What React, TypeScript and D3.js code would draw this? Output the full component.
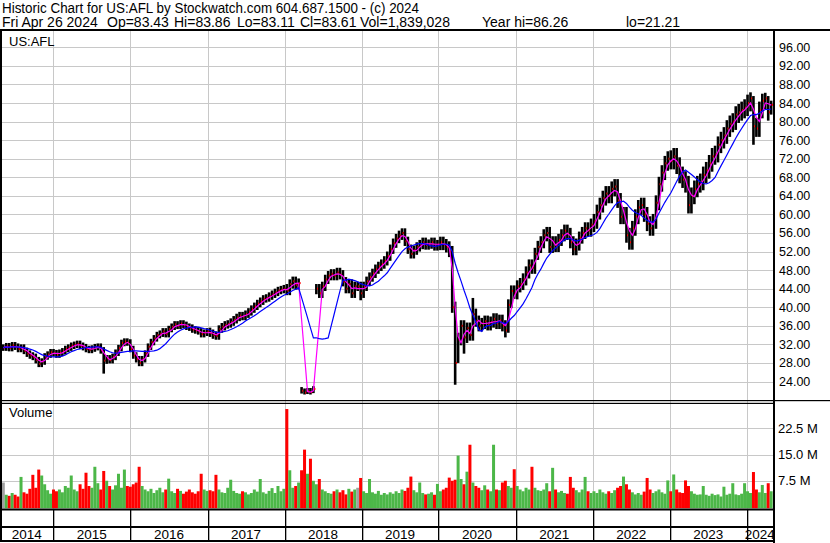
import React from 'react';
import * as d3 from 'd3';

// ---- Data (biweekly bars, last bar = Fri Apr 26 2024) ----
const closes = [
  // 2014
  31.3, 31.6, 31.2, 31.8, 31.5, 31.0, 31.3, 30.6, 30.0, 29.6, 29.3, 28.6, 27.8, 28.3, 29.4, 29.8, 30.3, 30.1,
  // 2015
  29.8, 30.2, 30.5, 31.0, 31.3, 31.7, 31.9, 32.1, 31.7, 31.4, 31.0, 30.8, 31.1, 31.4, 31.5, 30.7, 28.5, 29.0, 28.6, 29.3, 30.2, 31.2, 32.3, 32.6, 32.4, 31.0,
  // 2016
  29.6, 28.8, 28.0, 28.8, 30.0, 31.5, 32.5, 33.3, 34.0, 34.3, 34.8, 34.2, 35.3, 35.8, 36.3, 36.0, 36.5, 36.2, 35.8, 35.6, 35.2, 35.0, 34.8, 34.2, 34.5, 34.8,
  // 2017
  34.4, 34.0, 33.8, 35.3, 35.8, 36.2, 36.4, 36.8, 37.3, 37.8, 38.2, 38.0, 38.5, 39.0, 39.6, 40.2, 40.8, 41.3, 41.8, 42.0, 42.4, 42.8, 43.2, 43.6, 43.8, 44.0,
  // 2018
  43.6, 45.0, 45.6, 44.8, 45.2, 22.0, 21.6, 21.9, 21.7, 22.4, 44.0, 43.0, 44.5, 46.0, 46.8, 47.2, 46.8, 47.5, 47.0, 45.5, 44.0, 45.0, 43.0, 44.5, 44.5, 43.0,
  // 2019
  44.5, 45.6, 46.5, 47.3, 48.2, 48.8, 49.3, 50.0, 51.0, 52.5, 53.8, 54.8, 55.5, 56.0, 54.2, 52.5, 51.5, 52.3, 53.0, 53.5, 54.0, 53.4, 53.6, 54.0, 53.2, 53.5,
  // 2020
  54.0, 53.5, 53.0, 52.0, 40.0, 28.0, 33.0, 36.0, 33.5, 35.5, 34.0, 38.5, 37.0, 36.0, 36.5, 37.0, 36.2, 36.8, 37.5, 36.5, 37.2, 36.0, 35.0, 40.5, 43.5, 43.0,
  // 2021
  44.5, 45.0, 46.0, 47.5, 49.0, 48.5, 51.5, 53.0, 54.0, 55.5, 56.0, 53.0, 54.0, 53.2, 54.5, 55.5, 56.5, 55.8, 54.0, 52.5, 53.5, 55.0, 56.0, 57.0, 56.5, 57.8,
  // 2022
  58.5, 60.5, 62.0, 63.5, 64.5, 64.0, 65.5, 66.0, 63.0, 59.5, 60.0, 55.5, 54.0, 57.0, 59.5, 61.5, 62.0, 60.0, 58.0, 57.0, 58.5, 62.5, 66.5, 69.0, 71.0, 72.0,
  // 2023
  71.5, 72.5, 70.5, 68.5, 67.5, 66.5, 62.0, 64.0, 65.5, 66.5, 67.0, 68.5, 69.5, 71.0, 72.5, 73.0, 75.0, 76.0, 77.0, 78.5, 79.5, 80.0, 81.5, 82.0, 82.5, 83.0,
  // 2024
  84.0, 85.0, 79.0, 78.5, 82.5, 84.5, 85.0, 82.0, 83.6,
];

const highs = [
  32.0, 32.3, 32.3, 32.5, 32.5, 32.2, 32.0, 32.0, 31.3, 30.7, 30.3, 30.0, 29.3, 29.0, 30.1, 30.5, 31.0, 31.0,
  30.8, 30.9, 31.2, 31.7, 32.0, 32.4, 32.6, 32.8, 32.8, 32.4, 32.1, 31.7, 31.8, 32.1, 32.2, 32.2, 31.4, 29.7, 29.7, 30.0, 30.9, 31.9, 33.0, 33.3, 33.3, 33.1,
  31.7, 30.3, 29.5, 29.5, 30.7, 32.2, 33.2, 34.0, 34.7, 35.0, 35.5, 35.5, 36.0, 36.5, 37.0, 37.0, 37.2, 37.2, 36.9, 36.5, 36.3, 35.9, 35.7, 35.5, 35.2, 35.5,
  35.6, 35.2, 34.8, 36.1, 36.6, 37.0, 37.2, 37.6, 38.1, 38.6, 39.0, 39.0, 39.3, 39.8, 40.4, 41.0, 41.6, 42.1, 42.6, 42.8, 43.2, 43.6, 44.0, 44.4, 44.6, 44.8,
  45.0, 46.0, 46.6, 46.6, 46.2, 22.8, 22.5, 22.6, 22.6, 23.0, 45.0, 45.0, 45.5, 47.0, 47.8, 48.2, 48.2, 48.5, 48.5, 48.0, 46.5, 46.0, 46.0, 45.5, 45.5, 45.5,
  45.5, 46.6, 47.5, 48.3, 49.2, 49.8, 50.3, 51.0, 52.0, 53.5, 54.8, 55.8, 56.5, 57.0, 57.0, 55.2, 53.5, 53.3, 54.0, 54.5, 55.0, 55.0, 54.6, 55.0, 55.0, 54.5,
  55.2, 55.2, 54.7, 54.2, 53.2, 41.2, 34.5, 37.2, 37.2, 36.7, 36.7, 42.0, 39.7, 38.2, 37.7, 38.2, 38.2, 38.0, 38.7, 38.7, 38.4, 38.4, 37.2, 41.7, 44.7, 44.7,
  45.8, 46.3, 47.3, 48.8, 50.3, 50.3, 52.8, 54.3, 55.3, 56.8, 57.3, 57.3, 55.3, 55.3, 55.8, 56.8, 57.8, 57.8, 57.1, 55.3, 54.8, 56.3, 57.3, 58.3, 58.3, 59.1,
  60.1, 62.1, 63.6, 65.1, 66.1, 66.1, 67.1, 67.6, 67.6, 64.6, 61.6, 61.6, 57.1, 58.6, 61.1, 63.1, 63.6, 63.6, 61.6, 59.6, 60.1, 64.1, 68.1, 70.6, 72.6, 73.6,
  73.8, 74.3, 74.3, 72.3, 70.3, 69.3, 68.3, 65.8, 67.3, 68.3, 68.8, 70.3, 71.3, 72.8, 74.3, 74.8, 76.8, 77.8, 78.8, 80.3, 81.3, 81.8, 83.3, 83.8, 84.3, 84.8,
  85.8, 86.3, 85.5, 80.8, 84.3, 86.0, 86.2, 85.5, 84.5,
];

const lows = [
  30.6, 30.6, 30.5, 30.5, 30.8, 30.3, 30.3, 29.9, 29.3, 28.9, 28.6, 27.9, 27.1, 27.1, 27.6, 28.7, 29.1, 29.4,
  29.1, 29.1, 29.5, 29.8, 30.3, 30.6, 31.0, 31.2, 31.0, 30.7, 30.3, 30.1, 30.1, 30.4, 30.7, 30.0, 25.7, 27.8, 27.9, 27.9, 28.6, 29.5, 30.5, 31.6, 31.7, 30.3,
  28.9, 28.1, 27.3, 27.3, 28.1, 29.3, 30.8, 31.8, 32.6, 33.3, 33.6, 33.5, 33.5, 34.6, 35.1, 35.3, 35.3, 35.5, 35.1, 34.9, 34.5, 34.3, 34.1, 33.5, 33.5, 33.8,
  33.6, 33.2, 33.0, 33.0, 34.5, 35.0, 35.4, 35.6, 36.0, 36.5, 37.0, 37.2, 37.2, 37.7, 38.2, 38.8, 39.4, 40.0, 40.5, 41.0, 41.2, 41.6, 42.0, 42.4, 42.8, 43.0,
  42.6, 42.6, 44.0, 43.8, 43.8, 21.4, 21.2, 21.3, 21.2, 21.5, 42.8, 42.0, 42.0, 43.5, 45.0, 45.8, 45.8, 45.8, 46.0, 44.5, 43.0, 43.0, 42.0, 42.0, 43.5, 41.5,
  42.0, 43.5, 44.6, 45.5, 46.3, 47.2, 47.8, 48.3, 49.0, 50.0, 51.5, 52.8, 53.8, 54.5, 53.2, 51.5, 50.5, 50.5, 51.3, 52.0, 52.5, 52.4, 52.4, 52.6, 52.2, 52.2,
  52.3, 52.3, 51.8, 50.8, 38.8, 23.3, 28.0, 31.8, 30.0, 32.3, 32.8, 32.8, 35.8, 34.8, 34.8, 35.3, 35.0, 35.0, 35.6, 35.3, 35.3, 34.8, 33.5, 34.5, 39.8, 41.8,
  41.7, 43.2, 43.7, 44.7, 46.2, 47.2, 47.2, 50.2, 51.7, 52.7, 54.2, 51.7, 51.7, 51.9, 51.9, 53.2, 54.2, 54.5, 52.7, 51.2, 51.2, 52.2, 53.7, 54.7, 55.2, 55.2,
  56.2, 56.9, 58.9, 60.4, 61.9, 62.4, 62.4, 63.9, 61.4, 57.9, 57.9, 53.9, 52.4, 52.4, 55.4, 57.9, 59.9, 58.4, 56.4, 55.4, 55.4, 56.9, 60.9, 64.9, 67.4, 69.4,
  69.7, 69.7, 68.7, 66.7, 65.7, 64.7, 60.2, 60.2, 62.2, 63.7, 64.7, 65.2, 66.7, 67.7, 69.2, 70.7, 71.2, 73.2, 74.2, 75.2, 76.7, 77.7, 78.2, 79.7, 80.2, 80.7,
  81.2, 82.2, 75.0, 76.7, 76.7, 80.7, 82.7, 80.2, 81.5,
];

// volume in millions of shares
const volumes = [
  7.0, 3.5, 3.2, 4.0, 3.5, 3.0, 8.6, 4.2, 3.8, 5.2, 9.2, 5.5, 10.7, 9.0, 6.5, 4.8, 3.8, 5.0,
  4.5, 5.0, 4.2, 6.0, 5.5, 9.0, 5.0, 4.5, 6.5, 5.2, 9.8, 6.0, 5.5, 11.5, 6.8, 5.0, 10.3, 7.5, 6.0, 5.0, 6.2, 9.5, 5.5, 10.7, 6.0, 5.8,
  6.5, 7.0, 11.5, 6.0, 5.0, 4.5, 5.2, 4.0, 4.8, 5.5, 4.2, 5.0, 8.1, 4.5, 4.0, 5.2, 4.6, 3.8, 4.4, 5.0, 4.2, 3.8, 4.5, 9.5, 5.0, 4.6,
  4.8, 4.5, 9.2, 5.0, 4.2, 4.0, 5.5, 7.8, 4.6, 4.0, 3.8, 4.5, 4.2, 3.6, 4.0, 5.0, 4.4, 8.0, 4.2, 3.8, 4.6, 5.4, 4.0, 6.0, 4.5, 5.2,
  28.0, 10.5, 5.5, 6.0, 7.0, 10.5, 16.4, 9.5, 13.8, 7.5, 6.5, 8.0, 5.0, 4.5, 4.0, 3.8, 4.5, 5.0, 4.2, 4.8, 3.6, 5.2, 4.4, 5.0, 5.5, 8.3,
  4.5, 4.0, 8.0, 4.2, 3.8, 4.6, 3.5, 4.0, 3.6, 4.2, 3.8, 4.5, 4.0, 5.0, 4.6, 5.5, 8.7, 4.8, 4.2, 7.0, 4.0, 3.6, 3.8, 4.2, 3.5, 6.6,
  4.5, 5.0, 5.5, 8.4, 7.5, 7.8, 14.7, 8.0, 6.5, 10.1, 17.8, 7.0, 6.0, 5.5, 4.8, 6.2, 5.0, 4.5, 17.8, 5.0, 4.8, 7.0, 7.5, 6.0, 5.5, 10.8,
  6.0, 5.0, 4.5, 5.5, 5.0, 11.5, 5.5, 4.8, 4.6, 5.0, 6.8, 4.5, 11.2, 5.0, 4.2, 4.6, 4.0, 3.8, 8.6, 5.5, 4.8, 4.2, 5.0, 8.6, 4.5, 4.0,
  4.5, 4.0, 5.0, 4.2, 3.8, 4.5, 4.0, 4.8, 5.5, 6.0, 8.7, 6.5, 5.0, 4.2, 3.6, 4.0, 3.5, 4.4, 8.3, 5.0, 4.0, 4.5, 5.0, 4.2, 3.8, 7.6,
  4.5, 9.3, 5.0, 4.2, 4.0, 7.6, 6.0, 4.5, 3.8, 3.5, 3.6, 6.0, 3.5, 3.2, 3.8, 3.4, 3.6, 3.0, 5.8, 3.5, 3.8, 6.8, 3.6, 3.4, 3.8, 6.8,
  4.5, 4.0, 10.0, 5.0, 4.2, 6.3, 4.0, 6.8, 4.5,
];

const priceTicks = [24, 28, 32, 36, 40, 44, 48, 52, 56, 60, 64, 68, 72, 76, 80, 84, 88, 92, 96];
const volumeTicks = [7.5, 15.0, 22.5];
const yearLabels = ['2014', '2015', '2016', '2017', '2018', '2019', '2020', '2021', '2022', '2023', '2024'];
const yearBoundaries = [2015, 2016, 2017, 2018, 2019, 2020, 2021, 2022, 2023, 2024];

const headerLine1 = 'Historic Chart for US:AFL by Stockwatch.com 604.687.1500 - (c) 2024';
const headerItems = [
  { t: 'Fri Apr 26 2024', x: 2 },
  { t: 'Op=83.43', x: 107 },
  { t: 'Hi=83.86', x: 174 },
  { t: 'Lo=83.11', x: 237 },
  { t: 'Cl=83.61', x: 300 },
  { t: 'Vol=1,839,028', x: 360 },
  { t: 'Year hi=86.26', x: 482 },
  { t: 'lo=21.21', x: 626 },
];

const lastDate = new Date(2024, 3, 26);
const FONT = '"Liberation Sans", Arial, sans-serif';

const PLOT_R = 773;
const P_TOP = 31, P_BOT = 400;
const V_TOP = 404, V_BOT = 508.5;

function sma(arr: number[], n: number) {
  return arr.map((_, i) => d3.mean(arr.slice(Math.max(0, i - n + 1), i + 1)) as number);
}

export default function App() {
  const n = closes.length;
  const dates = closes.map((_, i) => d3.timeDay.offset(lastDate, -14 * (n - 1 - i)));
  const x = d3.scaleTime().domain([new Date(2015, 0, 1), new Date(2024, 0, 1)]).range([53.3, 746.7]);
  const yP = d3.scaleLinear().domain([24, 96]).range([381.5, 47.3]);
  const yV = d3.scaleLinear().domain([0, 22.5]).range([507, 428.3]);

  const maFast = sma(closes, 3);
  const maSlow = sma(closes, 10);
  const line = (vals: number[]) =>
    d3.line<number>().x((_, i) => x(dates[i])).y((v) => yP(v))(vals) as string;

  const bx = yearBoundaries.map((y) => x(new Date(y, 0, 1)));
  const edges = [0, ...bx, PLOT_R];

  return (
    <svg width={830} height={543} style={{ position: 'absolute', left: 0, top: 0, background: '#fff' }} fontFamily={FONT}>
      <defs>
        <clipPath id="pclip"><rect x={0} y={P_TOP} width={PLOT_R} height={P_BOT - P_TOP} /></clipPath>
        <clipPath id="vclip"><rect x={0} y={V_TOP} width={PLOT_R} height={V_BOT - V_TOP} /></clipPath>
      </defs>
      <rect x={0} y={0} width={830} height={543} fill="#fff" />

      {/* header */}
      <text x={2} y={12.5} fontSize={14} fill="#000" textLength={417} lengthAdjust="spacingAndGlyphs">{headerLine1}</text>
      {headerItems.map((h) => (
        <text key={h.t} x={h.x} y={27} fontSize={14} fill="#000">{h.t}</text>
      ))}

      {/* grid: price */}
      {priceTicks.map((t) => (
        <line key={'pg' + t} x1={0} x2={PLOT_R} y1={Math.round(yP(t)) + 0.5} y2={Math.round(yP(t)) + 0.5} stroke="#c8c8c8" />
      ))}
      {bx.map((b, i) => (
        <line key={'vg' + i} x1={Math.round(b) + 0.5} x2={Math.round(b) + 0.5} y1={P_TOP} y2={V_BOT} stroke="#c8c8c8" />
      ))}
      {volumeTicks.map((t) => (
        <line key={'vt' + t} x1={0} x2={PLOT_R} y1={Math.round(yV(t)) + 0.5} y2={Math.round(yV(t)) + 0.5} stroke="#c8c8c8" />
      ))}

      {/* price bars */}
      <g clipPath="url(#pclip)">
        {closes.map((c, i) => {
          const xi = x(dates[i]);
          const yh = yP(highs[i]);
          const yl = yP(lows[i]);
          return (
            <g key={'b' + i}>
              <rect x={xi - 1.3} y={yh} width={2.6} height={Math.max(1, yl - yh)} fill="#000" />
              <rect x={xi + 0.6} y={yP(c) - 1} width={1.4} height={2} fill="#ff0000" />
            </g>
          );
        })}
        <path d={line(maFast)} fill="none" stroke="#ff00ff" strokeWidth={1.2} />
        <path d={line(maSlow)} fill="none" stroke="#0000ff" strokeWidth={1.2} />
      </g>

      {/* volume bars */}
      <g clipPath="url(#vclip)">
        {volumes.map((v, i) => {
          const xi = x(dates[i]);
          const col = i === 0 || closes[i] === closes[i - 1] ? '#a0a0a0' : closes[i] > closes[i - 1] ? '#4cb748' : '#ff0000';
          return <rect key={'v' + i} x={xi - 1.5} y={yV(v)} width={3} height={V_BOT - yV(v)} fill={col} />;
        })}
      </g>

      {/* labels inside panels */}
      <text x={9} y={46} fontSize={13} fill="#000">US:AFL</text>
      <text x={9} y={417} fontSize={13} fill="#000">Volume</text>

      {/* frame lines */}
      <rect x={0} y={29} width={830} height={2} fill="#000" />
      <rect x={0} y={29} width={2} height={513} fill="#000" />
      <rect x={PLOT_R} y={29} width={2} height={514} fill="#000" />
      <rect x={0} y={400} width={830} height={1.2} fill="#000" />
      <rect x={0} y={402.8} width={PLOT_R} height={1.2} fill="#000" />
      <rect x={0} y={508.5} width={PLOT_R + 2} height={2} fill="#000" />
      <rect x={0} y={526} width={PLOT_R + 2} height={2} fill="#000" />
      <rect x={0} y={540} width={PLOT_R + 2} height={2} fill="#000" />
      {bx.map((b, i) => (
        <rect key={'ys' + i} x={Math.round(b)} y={510} width={1.3} height={31} fill="#000" />
      ))}

      {/* year labels */}
      {yearLabels.map((lab, i) => (
        <text key={lab} x={(edges[i] + edges[i + 1]) / 2} y={539} fontSize={13.5} textAnchor="middle" fill="#000">{lab}</text>
      ))}

      {/* right axis labels */}
      {priceTicks.map((t) => (
        <text key={'pl' + t} x={779} y={yP(t) + 4.5} fontSize={12.5} fill="#000">{d3.format('.2f')(t)}</text>
      ))}
      {volumeTicks.map((t) => (
        <text key={'vl' + t} x={778} y={yV(t) + 4.5} fontSize={13} fill="#000">{d3.format('.1f')(t) + ' M'}</text>
      ))}
    </svg>
  );
}
